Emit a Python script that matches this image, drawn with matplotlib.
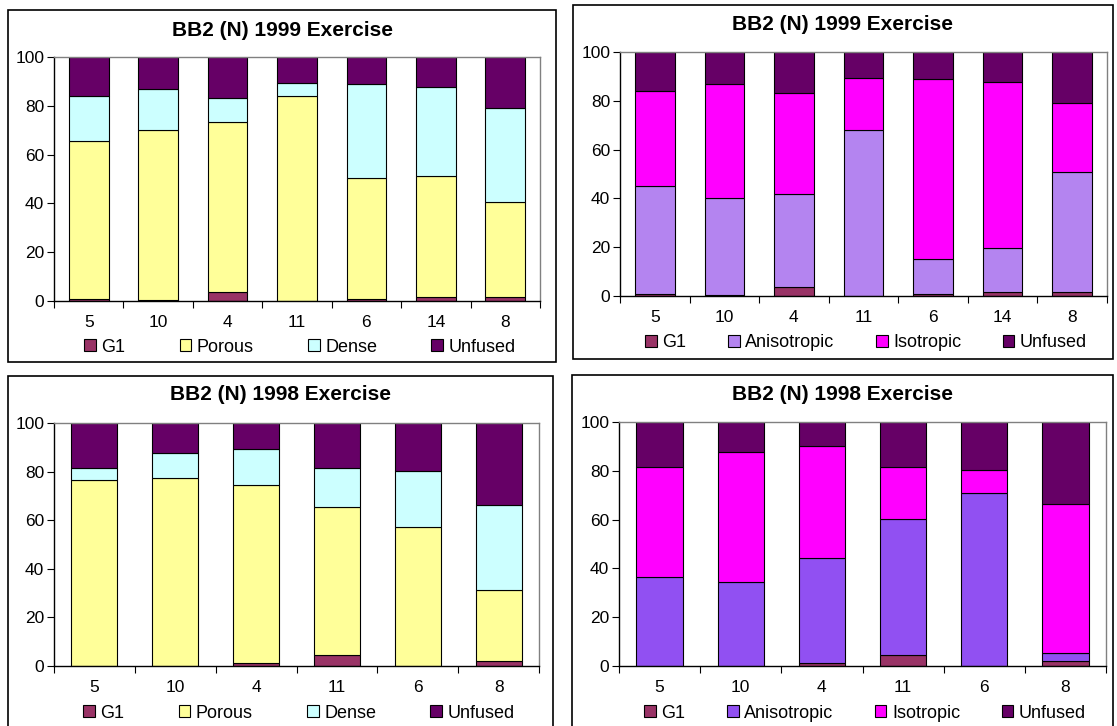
import matplotlib
matplotlib.use("Agg")
import matplotlib.pyplot as plt
from matplotlib.patches import Rectangle
import numpy as np

plt.rcParams['font.family'] = ['Liberation Sans', 'DejaVu Sans']

# ---- data -----------------------------------------------------------------
cats_1999 = ['5', '10', '4', '11', '6', '14', '8']
cats_1998 = ['5', '10', '4', '11', '6', '8']

# 1999: porosity breakdown (percent)
g1_1999 = [1.0, 0.5, 3.6, 0.0, 1.0, 1.8, 1.5]
porous_1999 = [64.6, 69.5, 69.9, 84.0, 49.5, 49.6, 39.2]
dense_1999 = [18.3, 17.0, 9.5, 5.3, 38.3, 36.5, 38.2]
unfused_1999 = [16.1, 13.0, 17.0, 10.7, 11.2, 12.1, 21.1]

# 1999: optical breakdown (percent)
aniso_1999 = [44.0, 39.6, 38.3, 68.0, 14.0, 17.8, 49.3]
iso_1999 = [38.9, 46.9, 41.1, 21.3, 73.8, 68.3, 28.1]

# 1998: porosity breakdown (percent)
g1_1998 = [0.0, 0.0, 1.4, 4.4, 0.0, 1.9]
porous_1998 = [76.5, 77.5, 72.9, 60.9, 57.4, 29.3]
dense_1998 = [5.1, 10.3, 14.8, 16.3, 22.9, 35.1]
unfused_1998 = [18.4, 12.2, 10.9, 18.4, 19.7, 33.7]

# 1998: optical breakdown (percent)
aniso_1998 = [36.6, 34.3, 42.8, 55.8, 71.0, 3.6]
iso_1998 = [44.9, 53.5, 45.9, 21.4, 9.3, 60.8]

# ---- styling --------------------------------------------------------------
C_G1 = '#993366'
C_POROUS = '#FFFF99'
C_DENSE = '#CCFFFF'
C_UNFUSED = '#660066'
C_ISO = '#FF00FF'
C_ANISO_99 = '#B484F0'
C_ANISO_98 = '#9150F2'

W, H = 1117, 726
fig = plt.figure(figsize=(W / 100, H / 100), dpi=100)


def px_axes(left, top, right, bottom):
    return fig.add_axes([left / W, 1 - bottom / H, (right - left) / W, (bottom - top) / H])


def frame_box(left, top, right, bottom):
    fig.patches.append(Rectangle((left / W, 1 - bottom / H), (right - left) / W,
                                 (bottom - top) / H, transform=fig.transFigure,
                                 fill=False, edgecolor='black', linewidth=1.2))


def stacked_panel(rect, box, title, title_y, cats, series, legend_xy, colspace):
    frame_box(*box)
    ax = px_axes(*rect)
    x = np.arange(len(cats))
    bottom = np.zeros(len(cats))
    handles = []
    for label, vals, color in series:
        vals = np.asarray(vals, dtype=float)
        b = ax.bar(x, vals, 0.57, bottom=bottom, color=color, edgecolor='black',
                   linewidth=0.8, label=label)
        handles.append(b)
        bottom = bottom + vals
    ax.set_xlim(-0.5, len(cats) - 0.5)
    ax.set_ylim(0, 100)
    ax.set_yticks([0, 20, 40, 60, 80, 100])
    ax.tick_params(axis='y', direction='out', length=5, width=0.8, labelsize=12.5,
                   pad=2, color='black')
    ax.set_xticks(x)
    ax.set_xticklabels(cats)
    ax.tick_params(axis='x', which='major', length=0, labelsize=12.5, pad=10)
    ax.set_xticks(np.arange(len(cats) + 1) - 0.5, minor=True)
    ax.tick_params(axis='x', which='minor', direction='out', length=5, width=0.8)
    for side in ('top', 'right'):
        ax.spines[side].set_color('#808080')
        ax.spines[side].set_linewidth(1.0)
    for side in ('left', 'bottom'):
        ax.spines[side].set_color('black')
        ax.spines[side].set_linewidth(1.0)
    cx = (box[0] + box[2]) / 2
    fig.text(cx / W, 1 - title_y / H, title, ha='center', va='center',
             fontsize=15, fontweight='bold')
    fig.legend(handles=handles, loc='center',
               bbox_to_anchor=(legend_xy[0] / W, 1 - legend_xy[1] / H),
               ncol=4, frameon=False, fontsize=13, handlelength=0.65,
               handleheight=0.65, handletextpad=0.3, columnspacing=colspace,
               borderpad=0, borderaxespad=0)
    return ax


stacked_panel((54, 57, 540, 301), (8, 10, 556, 362), 'BB2 (N) 1999 Exercise', 31,
              cats_1999,
              [('G1', g1_1999, C_G1), ('Porous', porous_1999, C_POROUS),
               ('Dense', dense_1999, C_DENSE), ('Unfused', unfused_1999, C_UNFUSED)],
              (300, 347), 3.0)

stacked_panel((620, 52, 1107, 296), (573, 5, 1113, 359), 'BB2 (N) 1999 Exercise', 25,
              cats_1999,
              [('G1', g1_1999, C_G1), ('Anisotropic', aniso_1999, C_ANISO_99),
               ('Isotropic', iso_1999, C_ISO), ('Unfused', unfused_1999, C_UNFUSED)],
              (866, 343), 2.3)

stacked_panel((54, 423, 539, 666), (8, 376, 553, 740), 'BB2 (N) 1998 Exercise', 395,
              cats_1998,
              [('G1', g1_1998, C_G1), ('Porous', porous_1998, C_POROUS),
               ('Dense', dense_1998, C_DENSE), ('Unfused', unfused_1998, C_UNFUSED)],
              (299, 713), 3.0)

stacked_panel((619, 422, 1106, 666), (572, 375, 1113, 740), 'BB2 (N) 1998 Exercise', 395,
              cats_1998,
              [('G1', g1_1998, C_G1), ('Anisotropic', aniso_1998, C_ANISO_98),
               ('Isotropic', iso_1998, C_ISO), ('Unfused', unfused_1998, C_UNFUSED)],
              (865, 713), 2.3)

fig.savefig('out.png', dpi=100)
